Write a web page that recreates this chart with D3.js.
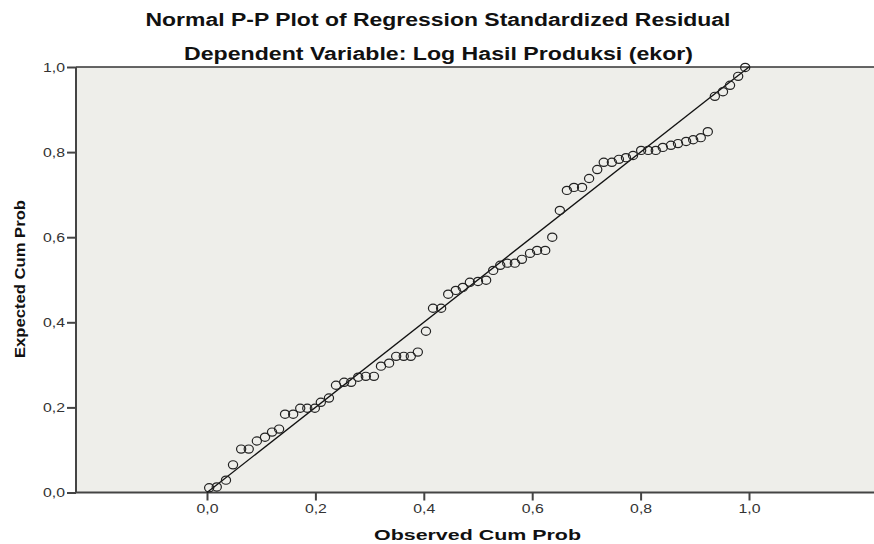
<!DOCTYPE html>
<html><head><meta charset="utf-8">
<script src="https://cdn.jsdelivr.net/npm/d3@7"></script>
<style>body{margin:0;background:#fff}svg{display:block}</style>
</head><body>
<script>
const observed = [0.004,0.018,0.035,0.048,0.063,0.077,0.092,0.107,0.120,0.133,0.144,0.159,0.172,0.185,0.199,0.210,0.225,0.238,0.253,0.266,0.279,0.293,0.308,0.321,0.336,0.349,0.363,0.376,0.389,0.404,0.417,0.432,0.445,0.459,0.472,0.485,0.500,0.515,0.528,0.541,0.554,0.568,0.581,0.596,0.609,0.624,0.637,0.651,0.664,0.677,0.692,0.705,0.720,0.732,0.747,0.760,0.773,0.786,0.801,0.814,0.828,0.841,0.856,0.869,0.884,0.897,0.911,0.924,0.937,0.952,0.965,0.980,0.993];
const expected = [0.011,0.013,0.029,0.065,0.102,0.102,0.121,0.130,0.142,0.149,0.184,0.184,0.198,0.198,0.198,0.212,0.222,0.252,0.259,0.259,0.271,0.273,0.273,0.297,0.304,0.320,0.320,0.320,0.330,0.379,0.433,0.433,0.466,0.475,0.482,0.494,0.496,0.499,0.522,0.534,0.539,0.539,0.548,0.562,0.569,0.569,0.600,0.663,0.710,0.717,0.717,0.738,0.759,0.776,0.776,0.783,0.787,0.792,0.804,0.804,0.804,0.811,0.816,0.820,0.825,0.829,0.834,0.848,0.931,0.942,0.957,0.978,0.999];
const tickValues = [0,0.2,0.4,0.6,0.8,1.0];
const tickLabels = ["0,0","0,2","0,4","0,6","0,8","1,0"];
const title1 = "Normal P-P Plot of Regression Standardized Residual";
const title2 = "Dependent Variable: Log Hasil Produksi (ekor)";
const xTitle = "Observed Cum Prob";
const yTitle = "Expected Cum Prob";

const W = 874, H = 544;
const pLeft = 76, pTop = 67, pBottom = 492.5, pRight = 900;
const x = d3.scaleLinear().domain([0,1]).range([207,749]);
const y = d3.scaleLinear().domain([0,1]).range([pBottom, pTop]);

const svg = d3.select("body").append("svg").attr("width",W).attr("height",H);
const font = "'Liberation Sans', Arial, sans-serif";

svg.append("rect").attr("x",pLeft).attr("y",pTop).attr("width",pRight-pLeft).attr("height",pBottom-pTop).attr("fill","#eeeeea");

svg.append("line").attr("x1",pLeft).attr("x2",W).attr("y1",pTop).attr("y2",pTop).attr("stroke","#333").attr("stroke-width",1.5);

const yAxis = d3.axisLeft(y).tickValues(tickValues).tickFormat((d,i)=>tickLabels[i]).tickSize(9).tickPadding(2);
const gy = svg.append("g").attr("transform",`translate(${pLeft},0)`).call(yAxis);
gy.select(".domain").attr("stroke","#444").attr("stroke-width",2).attr("d",`M0,${pTop}V${pBottom}`);
gy.selectAll(".tick line").attr("stroke","#444").attr("stroke-width",2);
gy.selectAll(".tick text").attr("font-family",font).attr("font-size",12.5).attr("fill","#333")
  .attr("textLength",22).attr("lengthAdjust","spacingAndGlyphs");

const xAxis = d3.axisBottom(x).tickValues(tickValues).tickFormat((d,i)=>tickLabels[i]).tickSize(8).tickPadding(4);
const gx = svg.append("g").attr("transform",`translate(0,${pBottom})`).call(xAxis);
gx.select(".domain").attr("stroke","#444").attr("stroke-width",2).attr("d",`M${pLeft},0H${W}`);
gx.selectAll(".tick line").attr("stroke","#444").attr("stroke-width",2);
gx.selectAll(".tick text").attr("font-family",font).attr("font-size",12.5).attr("fill","#333")
  .attr("textLength",22).attr("lengthAdjust","spacingAndGlyphs");

svg.append("line").attr("x1",x(0)).attr("y1",y(0)).attr("x2",x(1)).attr("y2",y(1)).attr("stroke","#111").attr("stroke-width",1.3);

svg.append("g").selectAll("ellipse").data(observed).join("ellipse")
  .attr("cx",d=>x(d)).attr("cy",(d,i)=>y(expected[i])).attr("rx",4.6).attr("ry",4.1)
  .attr("fill","none").attr("stroke","#222").attr("stroke-width",1.2);

function stretched(txt, cx, by, size, len){
  return svg.append("text").attr("x",cx - len/2).attr("y",by).attr("font-family",font).attr("font-weight","bold")
    .attr("font-size",size).attr("fill","#111").attr("textLength",len).attr("lengthAdjust","spacingAndGlyphs").text(txt);
}
stretched(title1, 438, 26, 17.5, 585);
stretched(title2, 438.5, 60, 17.5, 509);
stretched(xTitle, 477.5, 540, 15, 207);
svg.append("text").attr("transform","translate(25,279) rotate(-90)").attr("x",-79).attr("font-family",font).attr("font-weight","bold").attr("font-size",15).attr("fill","#111")
  .attr("textLength",158).attr("lengthAdjust","spacingAndGlyphs").text(yTitle);
</script>
</body></html>
